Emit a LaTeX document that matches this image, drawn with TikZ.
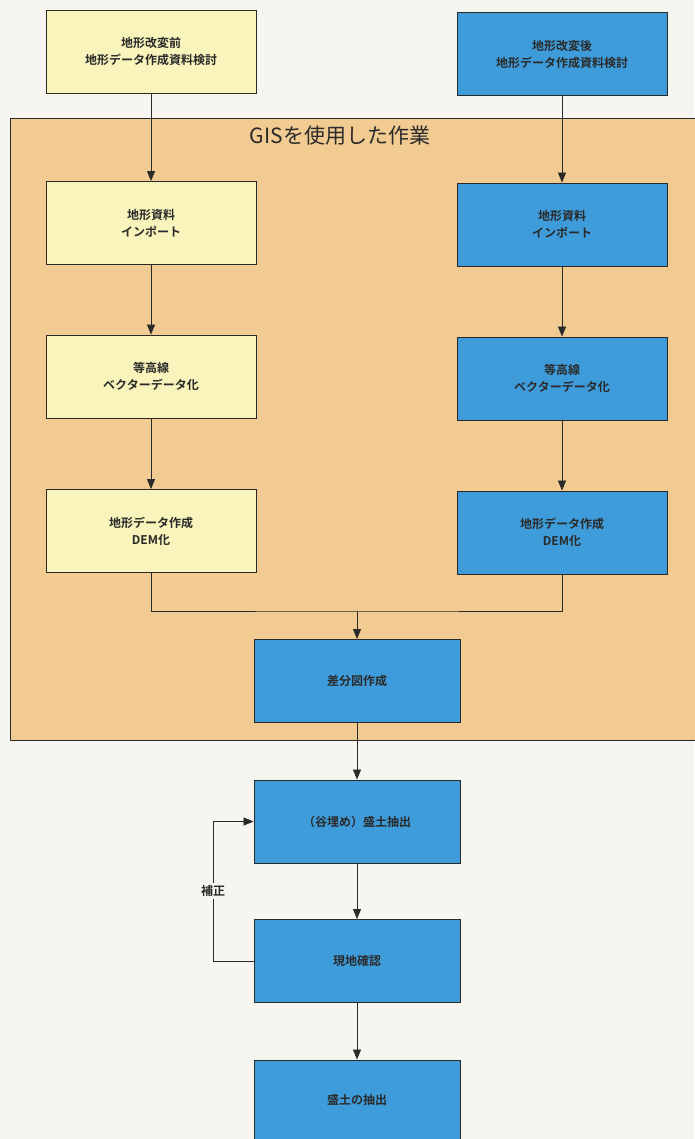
\documentclass[tikz,border=0pt]{standalone}
\usepackage{fontspec}
\setmainfont{Noto Sans CJK JP}
\newfontfamily\cjkb{Noto Sans CJK JP Bold}
\usetikzlibrary{arrows.meta}
\definecolor{pagebg}{HTML}{F7F5EF}
\definecolor{zone}{HTML}{F1CB92}
\definecolor{ybox}{HTML}{F8F4BC}
\definecolor{bbox}{HTML}{3E9CDA}
\definecolor{ink}{HTML}{2A2A2A}
\tikzset{
  x=1pt, y=-1pt,
  basebox/.style={draw=ink, line width=0.9pt, minimum width=210pt, minimum height=83pt, align=center, font=\cjkb\fontsize{12}{17}\selectfont, text=ink, inner sep=0pt},
  yelbox/.style={basebox, fill=ybox},
  bluebox/.style={basebox, fill=bbox},
  link/.style={draw=ink, line width=0.8pt},
  arr/.style={link, -{Triangle[length=10pt, width=8pt]}}
}
\begin{document}
\begin{tikzpicture}
\useasboundingbox (0,0) rectangle (694,1139);
\fill[pagebg] (0,0) rectangle (694,1139);
% GIS zone
\draw[fill=zone, draw=ink, line width=0.9pt] (10,118) rectangle (700,740);
\node[font=\fontsize{21}{24}\selectfont, text=ink] (title) at (340,136) {GISを使用した作業};
% left column
\node[yelbox] (l0) at (151,51.5) {地形改変前\\地形データ作成資料検討};
\node[yelbox] (l1) at (151,223) {地形資料\\インポート};
\node[yelbox] (l2) at (151,376.5) {等高線\\ベクターデータ化};
\node[yelbox] (l3) at (151,531) {地形データ作成\\DEM化};
% right column
\node[bluebox] (r0) at (562,54) {地形改変後\\地形データ作成資料検討};
\node[bluebox] (r1) at (562,224.5) {地形資料\\インポート};
\node[bluebox] (r2) at (562,378.5) {等高線\\ベクターデータ化};
\node[bluebox] (r3) at (562,532.5) {地形データ作成\\DEM化};
% center column
\node[bluebox, minimum width=206pt] (c1) at (357,681) {差分図作成};
\node[bluebox, minimum width=206pt] (c2) at (357,821.5) {（谷埋め）盛土抽出};
\node[bluebox, minimum width=206pt] (c3) at (357,961) {現地確認};
\node[bluebox, minimum width=206pt, minimum height=80pt] (c4) at (357,1100) {盛土の抽出};
% connectors
\draw[arr] (l0) -- (l1);
\draw[arr] (l1) -- (l2);
\draw[arr] (l2) -- (l3);
\draw[arr] (r0) -- (r1);
\draw[arr] (r1) -- (r2);
\draw[arr] (r2) -- (r3);
\coordinate (m) at (357,611);
\draw[link] (l3.south) |- (m) -| (r3.south);
\draw[arr] (m) -- (c1.north);
\draw[arr] (c1) -- (c2);
\draw[arr] (c2) -- (c3);
\draw[arr] (c3) -- (c4);
\coordinate (fb) at (213,891);
\node[font=\cjkb\fontsize{12}{14}\selectfont, text=ink, fill=pagebg, inner sep=2pt] (lab) at (fb) {補正};
\draw[link] (c3.west) -| (lab.south);
\draw[arr] (lab.north) |- (c2.west);
\end{tikzpicture}
\end{document}
